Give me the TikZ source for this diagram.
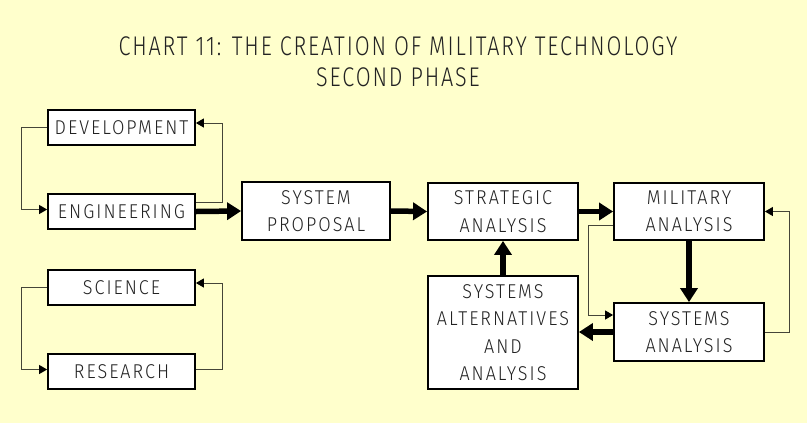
\documentclass[tikz,border=0pt]{standalone}
\usepackage{fontspec}
\setmainfont{Fira Sans}[UprightFont={* Light}, LetterSpace=10, FakeStretch=0.9]
\newfontfamily\titlefont{Fira Sans}[UprightFont={* Light}, LetterSpace=7, FakeStretch=0.8]
\usetikzlibrary{arrows.meta}
\definecolor{bg}{HTML}{FFFFCC}
\definecolor{thinc}{HTML}{454538}
\definecolor{txt}{HTML}{222222}
\tikzset{
  box/.style={draw=black, line width=1.8bp, fill=white, inner sep=0pt, align=center,
    text=txt, font=\fontsize{20bp}{27.5bp}\selectfont},
  thk/.style={line width=5.5bp, -{Triangle[length=14bp,width=17bp]}},
  thn/.style={draw=thinc, line width=1bp, -{Triangle[length=8bp,width=9bp,color=black]}}
}
\begin{document}
\begin{tikzpicture}[x=1bp,y=-1bp]
\fill[bg] (0,0) rectangle (807,423);
\useasboundingbox (0,0) rectangle (807,423);
\node[text=txt, font=\titlefont\fontsize{27bp}{31bp}\selectfont, align=center] (title) at (398,62) {CHART 11: THE CREATION OF MILITARY TECHNOLOGY\\SECOND PHASE};
\node[box, minimum width=147bp, minimum height=35bp] (dev) at (121.5,127.5) {DEVELOPMENT};
\node[box, minimum width=147bp, minimum height=35bp] (eng) at (121.5,211.5) {ENGINEERING};
\node[box, minimum width=147bp, minimum height=35bp] (sci) at (121.5,287.5) {SCIENCE};
\node[box, minimum width=147bp, minimum height=35bp] (res) at (121.5,371.5) {RESEARCH};
\node[box, minimum width=148bp, minimum height=58bp] (sp) at (316,211) {SYSTEM\\PROPOSAL};
\node[box, minimum width=150bp, minimum height=57bp] (strat) at (503,211.5) {STRATEGIC\\ANALYSIS};
\node[box, minimum width=150bp, minimum height=57bp] (mil) at (689,211.5) {MILITARY\\ANALYSIS};
\node[box, minimum width=150bp, minimum height=58bp] (sysan) at (689,332) {SYSTEMS\\ANALYSIS};
\node[box, minimum width=150bp, minimum height=113bp] (sysalt) at (503,332.5) {SYSTEMS\\ALTERNATIVES\\AND\\ANALYSIS};
% thick flow
\draw[thk] (eng.east) -- (sp.west);
\draw[thk] (sp.east) -- (strat.west);
\draw[thk] (strat.east) -- (mil.west);
\draw[thk] (mil.south) -- (sysan.north);
\draw[thk] (sysan.west) -- (sysalt.east|-sysan.west);
\draw[thk] (sysalt.north) -- (strat.south);
% thin loops
\draw[thn] (dev.west) -- ++(-26,0) |- ([yshift=2bp]eng.west);
\draw[thn] ([yshift=9.5bp]eng.east) -- ++(27,0) |- ([yshift=4.5bp]dev.east);
\draw[thn] (sci.west) -- ++(-26,0) |- ([yshift=2bp]res.west);
\draw[thn] ([yshift=2bp]res.east) -- ++(27,0) |- ([yshift=4.5bp]sci.east);
\draw[thn] ([yshift=-13.5bp]mil.west) -- ++(-25,0) |- ([yshift=17bp]sysan.west);
\draw[thn] (sysan.east) -- ++(25,0) |- (mil.east);
\end{tikzpicture}
\end{document}
